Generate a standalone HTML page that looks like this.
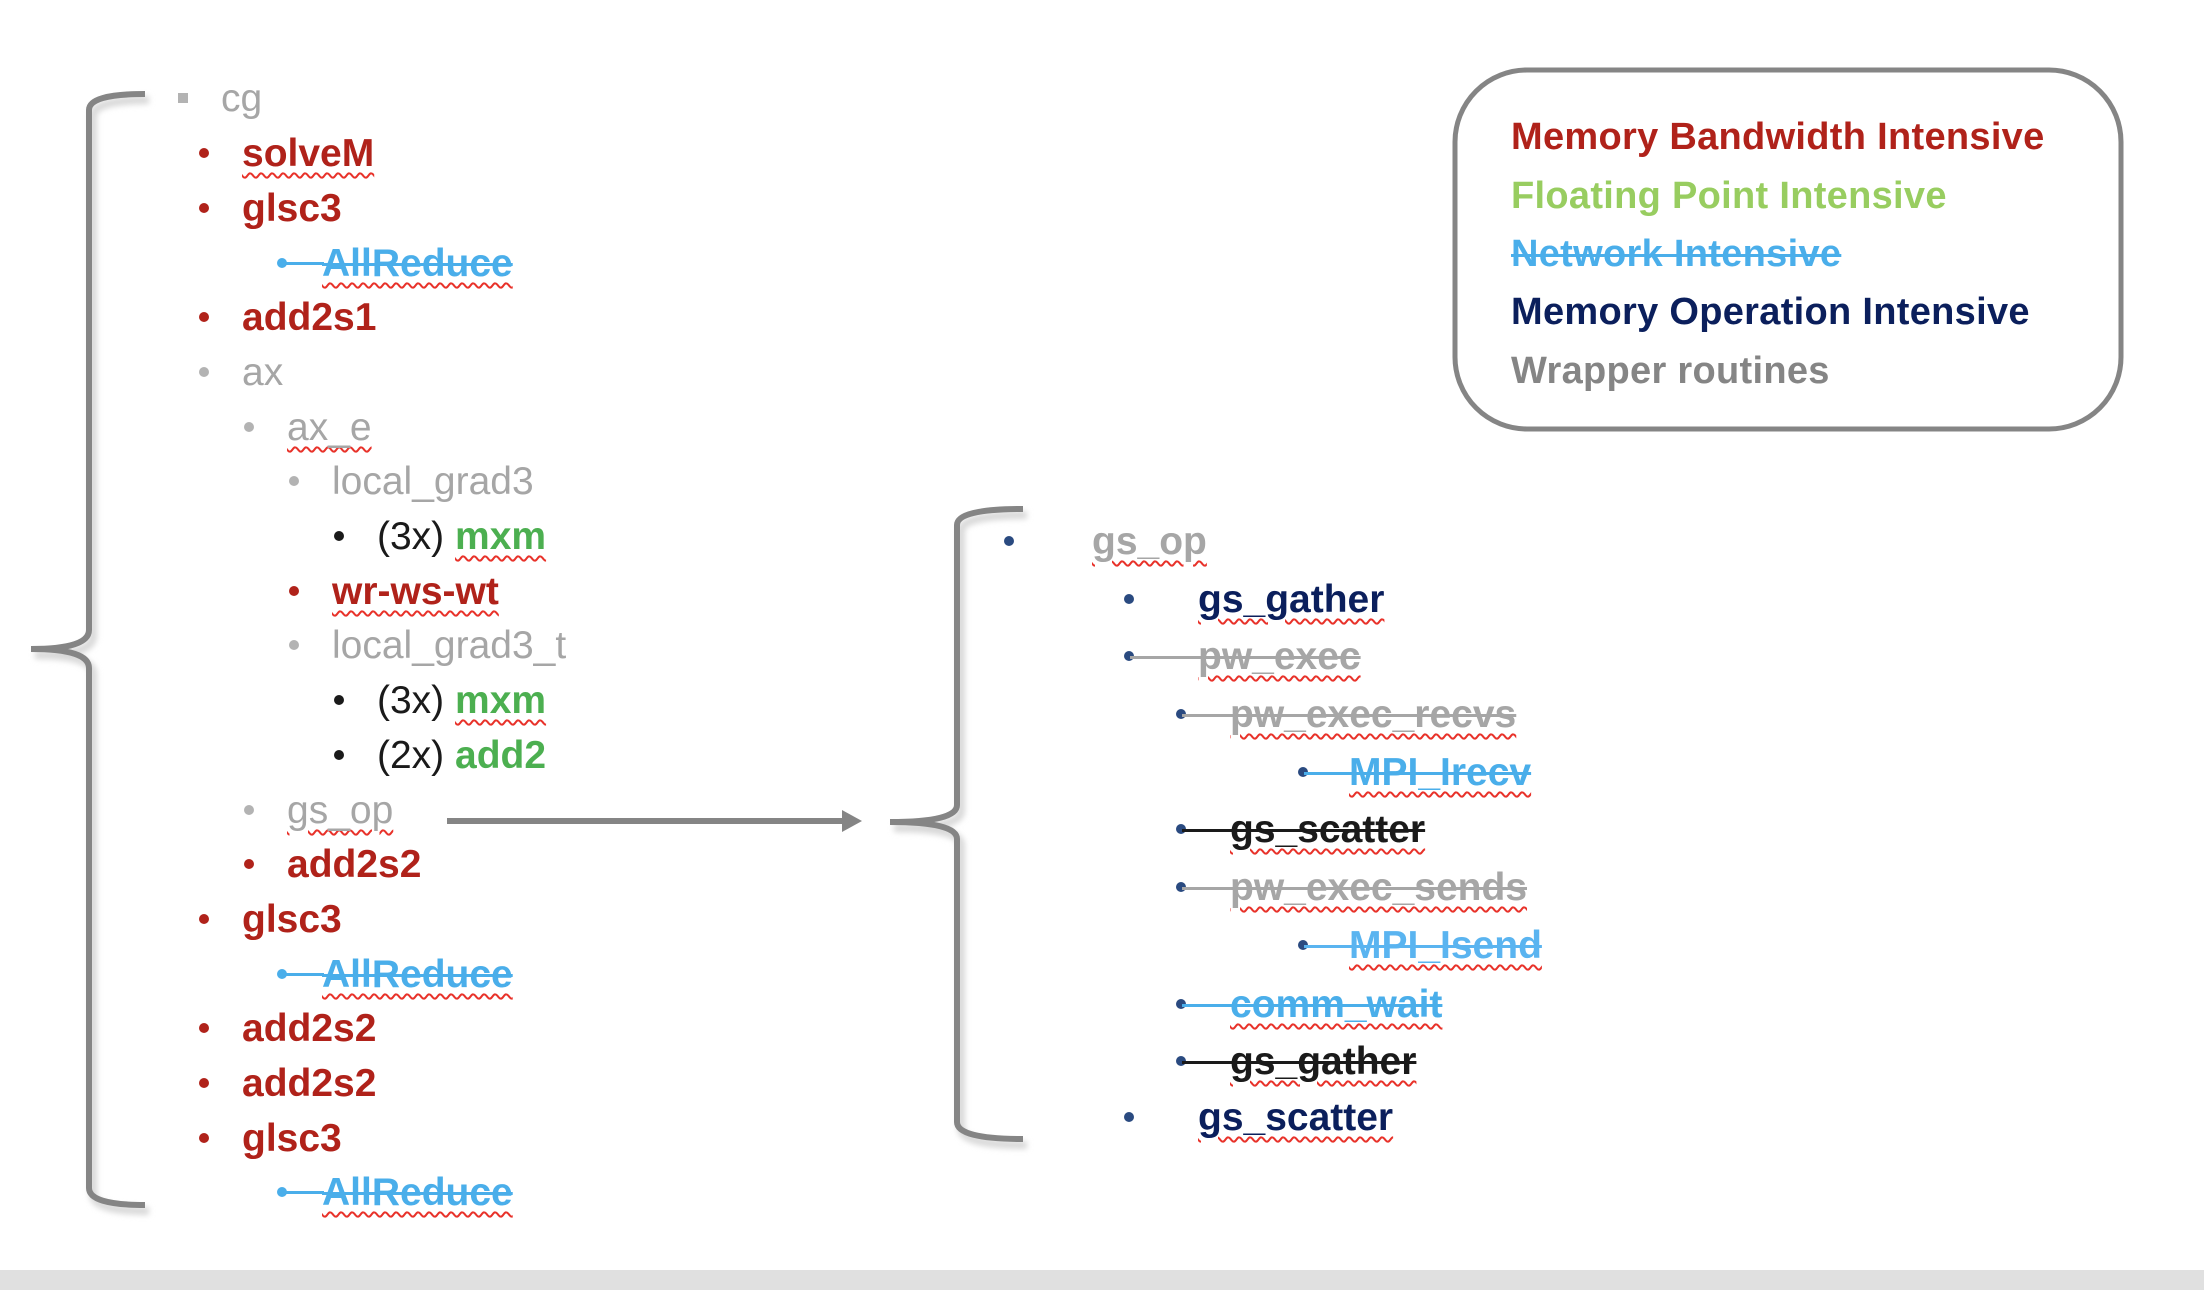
<!DOCTYPE html>
<html><head><meta charset="utf-8"><style>
body{margin:0;width:2204px;height:1290px;background:#fff;position:relative;overflow:hidden;font-family:"Liberation Sans",Arial,sans-serif}
.r{position:absolute;height:50px;line-height:50px;font-size:39px;white-space:nowrap;letter-spacing:0px}
.b{font-weight:bold}
.d{position:absolute;width:10px;height:10px;border-radius:50%}
.w{text-decoration:underline wavy #e8322a;text-decoration-thickness:1.5px;text-underline-offset:6px}
.s{text-decoration:line-through;text-decoration-thickness:3px}
.red{color:#b0221a}.gray{color:#a6a6a6}.blue{color:#4aaeea}.navy{color:#0b1f5c}.blk{color:#1a1a1a}.grn{color:#4caf50}
.ln{position:absolute;height:3px}
.lg{position:absolute;left:1511px;font-size:38px;font-weight:bold;line-height:50px;height:50px;white-space:nowrap;letter-spacing:0.3px}
</style></head><body>

<svg width="2204" height="1290" style="position:absolute;left:0;top:0">
 <defs><filter id="sh" x="-20%" y="-20%" width="140%" height="140%"><feGaussianBlur stdDeviation="3"/></filter></defs>
 <g fill="none" stroke="#d8d8d8" stroke-width="8" filter="url(#sh)" transform="translate(4,6)">
  <path d="M145,94 Q89,94 89,110 L89,630 Q89,649 31,649 Q89,649 89,668 L89,1188 Q89,1205 145,1205"/>
  <path d="M1023,509 Q957,509 957,525 L957,805 Q957,822 890,822 Q957,822 957,839 L957,1122 Q957,1139 1023,1139"/>
 </g>
 <g fill="none" stroke="#858585" stroke-width="6">
  <path d="M145,94 Q89,94 89,110 L89,630 Q89,649 31,649 Q89,649 89,668 L89,1188 Q89,1205 145,1205"/>
  <path d="M1023,509 Q957,509 957,525 L957,805 Q957,822 890,822 Q957,822 957,839 L957,1122 Q957,1139 1023,1139"/>
 </g>
 <line x1="447" y1="821" x2="848" y2="821" stroke="#858585" stroke-width="6"/>
 <polygon points="842,810 862,821 842,832" fill="#858585"/>
 <rect x="1455" y="70" width="666" height="359" rx="72" ry="72" fill="none" stroke="#858585" stroke-width="5"/>
</svg>

<!-- legend -->
<div class="lg red" style="top:112px">Memory Bandwidth Intensive</div>
<div class="lg" style="top:171px;color:#98cd60">Floating Point Intensive</div>
<div class="lg blue s" style="top:229px">Network Intensive</div>
<div class="lg navy" style="top:287px">Memory Operation Intensive</div>
<div class="lg" style="top:346px;color:#858585">Wrapper routines</div>

<!-- left list -->
<div style="position:absolute;left:178px;top:93px;width:10px;height:10px;background:#b3b3b3"></div>
<div class="r gray" style="left:221px;top:74px">cg</div>

<div class="d" style="left:199px;top:148px;background:#b0221a"></div>
<div class="r b red" style="left:242px;top:129px"><span class="w">solveM</span></div>
<div class="d" style="left:199px;top:203px;background:#b0221a"></div>
<div class="r b red" style="left:242px;top:184px">glsc3</div>
<div class="d" style="left:277px;top:258px;background:#4aaeea"></div>
<div class="ln" style="left:282px;top:262px;width:42px;background:#4aaeea"></div>
<div class="r b blue" style="left:322px;top:239px"><span class="s"><span class="w">AllReduce</span></span></div>
<div class="d" style="left:199px;top:312px;background:#b0221a"></div>
<div class="r b red" style="left:242px;top:293px">add2s1</div>
<div class="d" style="left:199px;top:367px;background:#b3b3b3"></div>
<div class="r gray" style="left:242px;top:348px">ax</div>
<div class="d" style="left:244px;top:422px;background:#b3b3b3"></div>
<div class="r gray" style="left:287px;top:403px"><span class="w">ax_e</span></div>
<div class="d" style="left:289px;top:476px;background:#b3b3b3"></div>
<div class="r gray" style="left:332px;top:457px">local_grad3</div>
<div class="d" style="left:334px;top:531px;background:#1a1a1a"></div>
<div class="r b" style="left:377px;top:512px"><span class="blk" style="font-weight:normal">(3x)</span> <span class="grn w">mxm</span></div>
<div class="d" style="left:289px;top:586px;background:#b0221a"></div>
<div class="r b red" style="left:332px;top:567px"><span class="w">wr-ws-wt</span></div>
<div class="d" style="left:289px;top:640px;background:#b3b3b3"></div>
<div class="r gray" style="left:332px;top:621px">local_grad3_t</div>
<div class="d" style="left:334px;top:695px;background:#1a1a1a"></div>
<div class="r b" style="left:377px;top:676px"><span class="blk" style="font-weight:normal">(3x)</span> <span class="grn w">mxm</span></div>
<div class="d" style="left:334px;top:750px;background:#1a1a1a"></div>
<div class="r b" style="left:377px;top:731px"><span class="blk" style="font-weight:normal">(2x)</span> <span class="grn">add2</span></div>
<div class="d" style="left:244px;top:805px;background:#b3b3b3"></div>
<div class="r gray" style="left:287px;top:786px"><span class="w">gs_op</span></div>
<div class="d" style="left:244px;top:859px;background:#b0221a"></div>
<div class="r b red" style="left:287px;top:840px">add2s2</div>
<div class="d" style="left:199px;top:914px;background:#b0221a"></div>
<div class="r b red" style="left:242px;top:895px">glsc3</div>
<div class="d" style="left:277px;top:969px;background:#4aaeea"></div>
<div class="ln" style="left:282px;top:973px;width:42px;background:#4aaeea"></div>
<div class="r b blue" style="left:322px;top:950px"><span class="s"><span class="w">AllReduce</span></span></div>
<div class="d" style="left:199px;top:1023px;background:#b0221a"></div>
<div class="r b red" style="left:242px;top:1004px">add2s2</div>
<div class="d" style="left:199px;top:1078px;background:#b0221a"></div>
<div class="r b red" style="left:242px;top:1059px">add2s2</div>
<div class="d" style="left:199px;top:1133px;background:#b0221a"></div>
<div class="r b red" style="left:242px;top:1114px">glsc3</div>
<div class="d" style="left:277px;top:1187px;background:#4aaeea"></div>
<div class="ln" style="left:282px;top:1191px;width:42px;background:#4aaeea"></div>
<div class="r b blue" style="left:322px;top:1168px"><span class="s"><span class="w">AllReduce</span></span></div>

<!-- right list -->
<div class="d" style="left:1004px;top:536px;background:#2a4a80"></div>
<div class="r b gray" style="left:1092px;top:517px"><span class="w">gs_op</span></div>
<div class="d" style="left:1124px;top:594px;background:#2a4a80"></div>
<div class="r b navy" style="left:1198px;top:575px"><span class="w">gs_gather</span></div>
<div class="d" style="left:1124px;top:651px;background:#2a4a80"></div>
<div class="ln" style="left:1130px;top:656px;width:70px;background:#a6a6a6"></div>
<div class="r b gray" style="left:1198px;top:632px"><span class="s"><span class="w">pw_exec</span></span></div>
<div class="d" style="left:1176px;top:709px;background:#2a4a80"></div>
<div class="ln" style="left:1182px;top:714px;width:50px;background:#a6a6a6"></div>
<div class="r b gray" style="left:1230px;top:690px"><span class="s"><span class="w">pw_exec_recvs</span></span></div>
<div class="d" style="left:1298px;top:767px;background:#2a4a80"></div>
<div class="ln" style="left:1304px;top:772px;width:47px;background:#4aaeea"></div>
<div class="r b blue" style="left:1349px;top:748px"><span class="s"><span class="w">MPI_Irecv</span></span></div>
<div class="d" style="left:1176px;top:824px;background:#2a4a80"></div>
<div class="ln" style="left:1182px;top:829px;width:50px;background:#1a1a1a"></div>
<div class="r b blk" style="left:1230px;top:805px"><span class="s"><span class="w">gs_scatter</span></span></div>
<div class="d" style="left:1176px;top:882px;background:#2a4a80"></div>
<div class="ln" style="left:1182px;top:887px;width:50px;background:#a6a6a6"></div>
<div class="r b gray" style="left:1230px;top:863px"><span class="s"><span class="w">pw_exec_sends</span></span></div>
<div class="d" style="left:1298px;top:940px;background:#2a4a80"></div>
<div class="ln" style="left:1304px;top:945px;width:47px;background:#5ab4f0"></div>
<div class="r b" style="left:1349px;top:921px;color:#5ab4f0"><span class="s"><span class="w">MPI_Isend</span></span></div>
<div class="d" style="left:1176px;top:999px;background:#2a4a80"></div>
<div class="ln" style="left:1182px;top:1004px;width:50px;background:#4aaeea"></div>
<div class="r b blue" style="left:1230px;top:980px"><span class="s"><span class="w">comm_wait</span></span></div>
<div class="d" style="left:1176px;top:1056px;background:#2a4a80"></div>
<div class="ln" style="left:1182px;top:1061px;width:50px;background:#1a1a1a"></div>
<div class="r b blk" style="left:1230px;top:1037px"><span class="s"><span class="w">gs_gather</span></span></div>
<div class="d" style="left:1124px;top:1112px;background:#2a4a80"></div>
<div class="r b navy" style="left:1198px;top:1093px"><span class="w">gs_scatter</span></div>

<div style="position:absolute;left:0;top:1270px;width:2204px;height:20px;background:#e0e0e0"></div>
</body></html>
